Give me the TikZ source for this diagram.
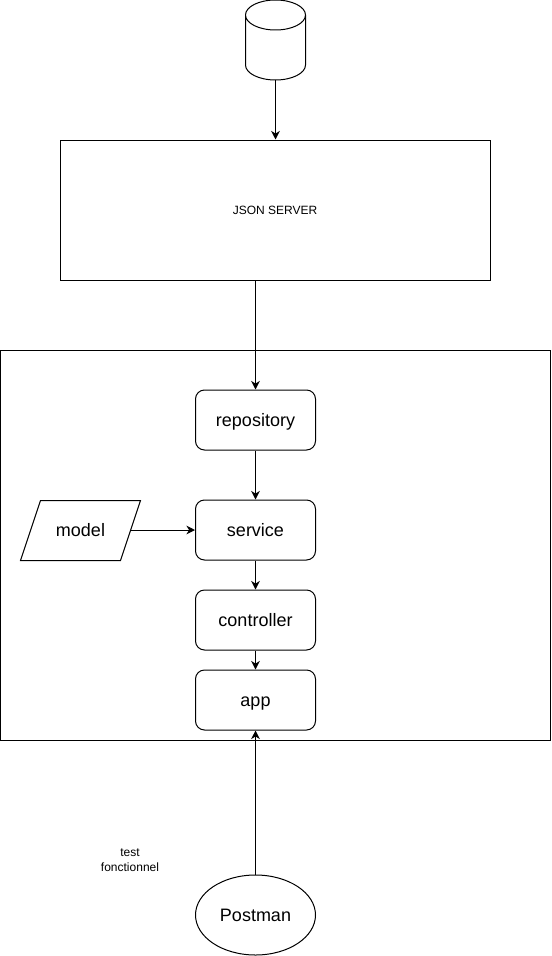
\documentclass[tikz,border=0pt]{standalone}
\usepackage{fontspec}
\setmainfont{Liberation Sans}
\usetikzlibrary{arrows.meta,shapes.geometric}
\tikzset{
 big/.style={font=\fontsize{13.5}{15}\selectfont,text height=12.8pt,text depth=3pt},
 box/.style={draw,line width=0.75pt,rounded corners=6.75pt,minimum width=90pt,minimum height=45pt,inner sep=0pt,big},
 plain/.style={draw,line width=0.75pt,inner sep=0pt},
 conn/.style={draw,line width=0.75pt,-{Stealth[length=6.5pt,width=6.5pt]}},
 small/.style={font=\fontsize{9}{11.25}\selectfont,align=center,inner sep=0pt}}
\begin{document}
\begin{tikzpicture}[x=0.75pt,y=-0.75pt]
\useasboundingbox (0,0) rectangle (551,956);
\node[plain,minimum width=322.875pt,minimum height=105pt] (json) at (275.5,210) {};
\node[small] (jsonl) at (275,210) {JSON SERVER};
\node[plain,minimum width=412.5pt,minimum height=292.5pt] (outer) at (275.5,545) {};
\node[box] (repo) at (255.5,420) {repository};
\node[box] (service) at (255.5,530) {service};
\node[box] (ctrl) at (255.5,620) {controller};
\node[box] (app) at (255.5,700) {app};
\node[big,inner sep=0pt] (model) at (80.5,530) {model};
\coordinate (modelr) at (130.5,530);
\draw[line width=0.75pt,line join=miter] (40.5,500.5) -- (140.5,500.5) -- (120.5,560.5) -- (20.5,560.5) -- cycle;
\node[draw,line width=0.75pt,ellipse,minimum width=90pt,minimum height=60pt,inner sep=0pt,big] (postman) at (255.5,915) {Postman};
\node[small] (test) at (130,860) {test\\fonctionnel};
\coordinate (db) at (275.5,80);
\draw[line width=0.75pt] (245.5,15) arc[x radius=30,y radius=15,start angle=180,end angle=540]
  (245.5,15) -- (245.5,65) arc[x radius=30,y radius=15,start angle=180,end angle=0] -- (305.5,15);
\draw[conn] (db) -- (json.north -| db);
\draw[conn] (json.south -| repo) -- (repo.north);
\draw[conn] (repo) -- (service);
\draw[conn] (modelr) -- (service);
\draw[conn] (service) -- (ctrl);
\draw[conn] (ctrl) -- (app);
\draw[conn] (postman) -- (app);
\end{tikzpicture}
\end{document}
